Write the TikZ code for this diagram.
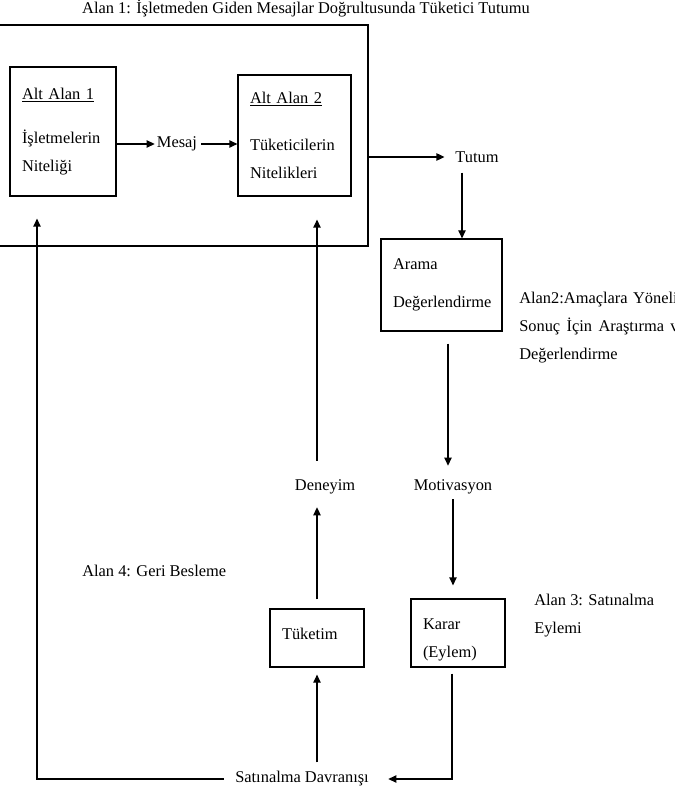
\documentclass[tikz,border=0pt]{standalone}
\usepackage{fontspec}
\setmainfont{Liberation Serif}
\usetikzlibrary{arrows.meta,calc}
\hyphenpenalty=10000
\exhyphenpenalty=10000

\begin{document}
\begin{tikzpicture}[x=0.75pt,y=-0.75pt,
    font=\fontsize{12.3}{21}\selectfont,
    kutu/.style={draw, line width=0.9pt, inner xsep=9pt, inner ysep=0pt, align=left},
    yazi/.style={inner sep=0pt},
    ok/.style={-{Triangle[length=6pt,width=5.5pt]}, line width=0.9pt}]
    \useasboundingbox (0,0) rectangle (674,812);

    \node[yazi] (B) at (306,9) {Alan 1: İşletmeden Giden Mesajlar Doğrultusunda Tüketici Tutumu};
    \node[draw, line width=0.9pt, inner sep=0pt, minimum width=278.25pt, minimum height=165.75pt] (A1) at (182.5,135.5) {};

    \node[kutu, text width=61.5pt, minimum height=96.75pt] (AA1) at (63,131.5) {\underline{Alt Alan 1}\\[12pt]İşletmelerin\\Niteliği};
    \node[kutu, text width=66.75pt, minimum height=90.75pt] (AA2) at (294.5,135.5) {\underline{Alt Alan 2}\\[14.25pt]Tüketicilerin\\Nitelikleri};
    \node[yazi] (M) at (177,144) {Mesaj};
    \node[yazi] (T) at (477,157) {Tutum};

    \node[kutu, text width=72.75pt, minimum height=69pt] (AD) at (441.5,285) {Arama\\[7.5pt]Değerlendirme};
    \node[yazi, anchor=north west, text width=125pt, align=justify] (A2) at (519,292) {Alan2:Amaçlara Yönelik\linebreak Sonuç İçin Araştırma ve\linebreak Değerlendirme};

    \node[yazi] (D) at (325,487) {Deneyim};
    \node[yazi] (Mo) at (453,487) {Motivasyon};
    \node[yazi, anchor=west] (A4) at (82,571) {Alan 4: Geri Besleme};

    \node[kutu, text width=52.5pt, minimum height=43.5pt] (Tu) at (317,638) {Tüketim\rule[-6pt]{0pt}{6pt}};
    \node[kutu, text width=52.5pt, minimum height=51pt] (K) at (458,633) {\rule{0pt}{19pt}Karar\\(Eylem)};
    \node[yazi, anchor=north west, align=left] (A3) at (534,594) {Alan 3: Satınalma\\Eylemi};

    \node[yazi] (SD) at (302,779) {Satınalma Davranışı};

    \coordinate (t1) at ($(T.south)+(-15,0)$);
    \coordinate (a1) at ($(AD.south)+(6.5,0)$);
    \coordinate (k1) at ($(K.south)+(-6,6)$);
    \coordinate (f1) at ($(AA1.south)+(-26,22)$);

    \draw[ok, shorten >=1.5pt] (AA1.east |- M) -- (M.west);
    \draw[ok, shorten <=3pt] (M.east) -- (AA2.west |- M);
    \draw[ok, shorten >=8pt] (A1.east |- T) -- (T.west);
    \draw[ok, shorten <=7.5pt] (t1) -- (t1 |- AD.north);

    \draw[ok, shorten <=9pt, shorten >=10.4pt] (a1) -- (a1 |- Mo.north);
    \draw[ok, shorten <=3.6pt, shorten >=9.75pt] (Mo.south) -- (Mo.south |- K.north);
    \draw[ok, shorten >=14.5pt] (k1) |- (SD.east);

    \draw[ok, shorten <=6.75pt, shorten >=5.25pt] (SD.north -| Tu) -- (Tu.south);
    \draw[ok, shorten <=6.75pt, shorten >=9.6pt] (Tu.north) -- (Tu.north |- D.south);
    \draw[ok, shorten <=14pt, shorten >=17.25pt] (D.north -| Tu) -- (Tu |- AA2.south);

    \draw[ok, shorten <=8.5pt] (SD.west) -| (f1);

\end{tikzpicture}
\end{document}
